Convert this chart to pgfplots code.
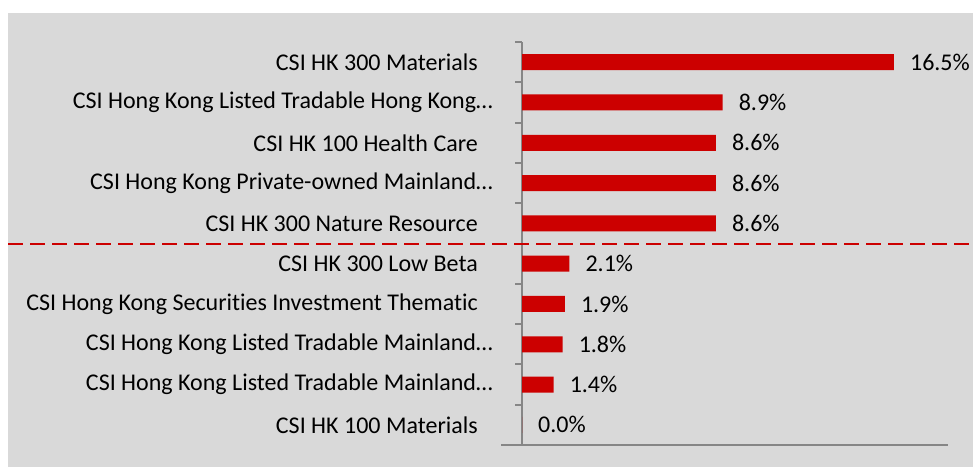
\documentclass[border=0pt]{standalone}
\usepackage{fontspec}
\setmainfont[Ligatures={NoCommon}]{Carlito}
\usepackage{pgfplots}
\pgfplotsset{compat=1.18}
\definecolor{bg}{HTML}{D9D9D9}
\definecolor{barred}{HTML}{CC0000}
\definecolor{axgrey}{HTML}{868686}
\begin{document}
\begin{tikzpicture}
\useasboundingbox (0pt,0pt) rectangle (973pt,-467pt);
\fill[white] (0pt,0pt) rectangle (973pt,-467pt);
\fill[bg] (8pt,-13pt) rectangle (973pt,-467pt);
\begin{axis}[
  at={(522pt,-445pt)}, anchor=south west,
  scale only axis, width=426pt, height=403pt,
  xbar, bar width=16pt,
  xmin=0, xmax=18.9, ymin=-0.5, ymax=9.5, y dir=reverse,
  axis x line=none, axis y line*=left,
  axis line style={draw=axgrey, line width=2pt},
  xtick=\empty,
  ytick={0,...,9},
  yticklabels={
    CSI HK 300 Materials\kern15pt,
    CSI Hong Kong Listed Tradable Hong Kong…,
    CSI HK 100 Health Care\kern15pt,
    CSI Hong Kong Private-owned Mainland…,
    CSI HK 300 Nature Resource\kern15pt,
    CSI HK 300 Low Beta\kern15pt,
    CSI Hong Kong Securities Investment Thematic\kern15pt,
    CSI Hong Kong Listed Tradable Mainland…,
    CSI Hong Kong Listed Tradable Mainland…,
    CSI HK 100 Materials\kern15pt},
  minor ytick={-0.5,0.5,...,9.5},
  major tick length=0pt, minor tick length=7pt,
  tick align=outside,
  minor tick style={draw=axgrey, line width=2pt},
  major tick style={draw=none},
  yticklabel style={anchor=east, inner sep=0pt, xshift=-29pt, font=\fontsize{24}{28}\selectfont, text=black},
  clip=false,
  point meta=x,
  /pgf/number format/assume math mode=true,
  nodes near coords={\pgfmathprintnumber[fixed,fixed zerofill,precision=1,assume math mode=true]{\pgfplotspointmeta}\%},
  nodes near coords style={anchor=west, inner sep=0pt, xshift=16pt, font=\fontsize{24}{28}\selectfont, text=black},
]
\addplot[fill=barred, draw=none] coordinates {
  (16.5,0) (8.9,1) (8.6,2) (8.6,3) (8.6,4)
  (2.1,5) (1.9,6) (1.8,7) (1.4,8) (0.0,9)};
\end{axis}
\draw[axgrey, line width=2pt] (501pt,-445pt) -- (948pt,-445pt);
\draw[barred, line width=2pt, dash pattern=on 15pt off 7pt] (8pt,-244pt) -- (973pt,-244pt);
\end{tikzpicture}
\end{document}
